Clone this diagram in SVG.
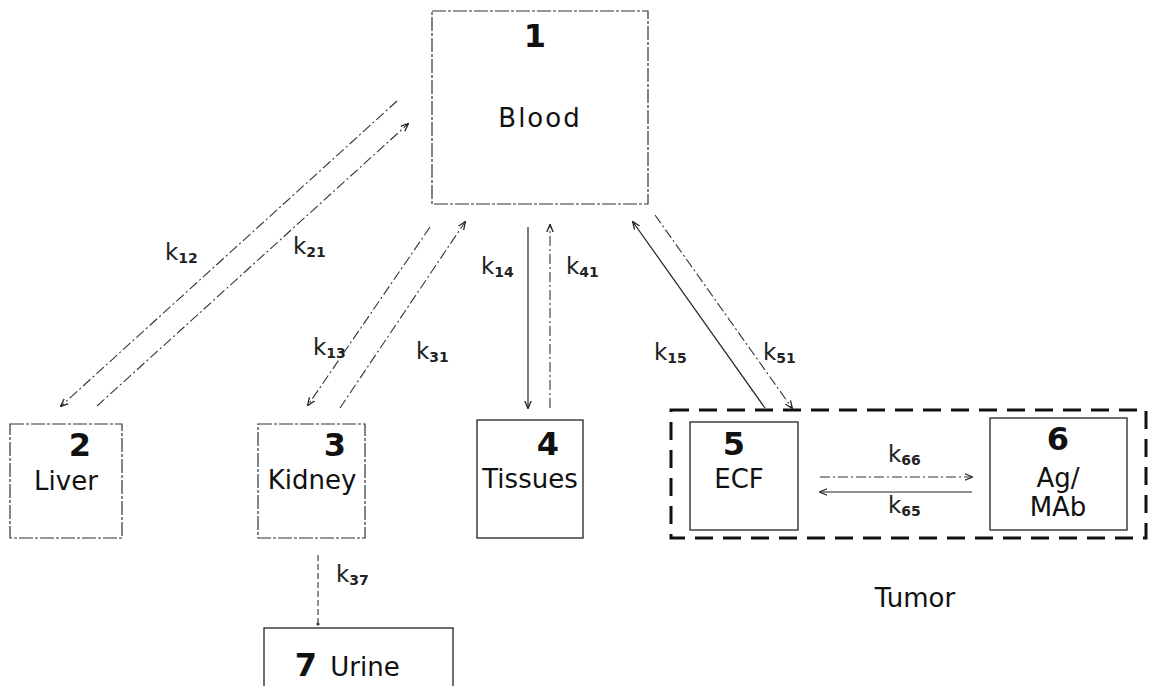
<svg xmlns="http://www.w3.org/2000/svg" width="1149" height="686" viewBox="0 0 1149 686">
<defs>
<marker id="ah" viewBox="0 0 10 10" refX="9" refY="5" markerWidth="8" markerHeight="8" orient="auto-start-reverse" markerUnits="userSpaceOnUse">
<path d="M0,1 L10,5 L0,9" fill="none" stroke="#222" stroke-width="1.6"/>
</marker>
<style>
.box{fill:#fff;stroke:#333;stroke-width:1.2;stroke-dasharray:14 2 3 2}
.solid{fill:#fff;stroke:#222;stroke-width:1.3}
.num{font-family:"DejaVu Sans","Liberation Sans",sans-serif;font-weight:bold;font-size:32px;fill:#111;text-anchor:middle}
.lab{font-family:"DejaVu Sans","Liberation Sans",sans-serif;font-size:26px;fill:#111;text-anchor:middle}
.k{font-family:"DejaVu Sans","Liberation Sans",sans-serif;font-size:23px;fill:#222}
.k tspan{font-size:14px;font-weight:bold}
.c{fill:none;stroke:#333;stroke-width:1.1;stroke-dasharray:10 3 2 3;marker-end:url(#ah)}
.cs{fill:none;stroke:#222;stroke-width:1.2;marker-end:url(#ah)}
</style>
</defs>
<rect width="1149" height="686" fill="#fff"/>

<g id="tumor">
<rect x="671" y="410" width="475" height="128" fill="none" stroke="#111" stroke-width="3" stroke-dasharray="18 10"/>
<text class="lab" x="915" y="607" font-size="28">Tumor</text>
</g>

<g id="n1">
<rect class="box" x="432" y="11" width="216" height="193"/>
<text class="num" x="535" y="47">1</text>
<text class="lab" x="540" y="127" letter-spacing="2">Blood</text>
</g>
<g id="n2">
<rect class="box" x="10" y="424" width="112" height="114"/>
<text class="num" x="80" y="456">2</text>
<text class="lab" x="66" y="490">Liver</text>
</g>
<g id="n3">
<rect class="box" x="258" y="424" width="107" height="114"/>
<text class="num" x="335" y="456">3</text>
<text class="lab" x="312" y="489" font-size="25">Kidney</text>
</g>
<g id="n4">
<rect class="solid" x="477" y="420" width="106" height="118"/>
<text class="num" x="548" y="455">4</text>
<text class="lab" x="530" y="488" font-size="24">Tissues</text>
</g>
<g id="n5">
<rect class="solid" x="690" y="422" width="108" height="108"/>
<text class="num" x="734" y="455">5</text>
<text class="lab" x="739" y="488">ECF</text>
</g>
<g id="n6">
<rect class="solid" x="990" y="418" width="137" height="112"/>
<text class="num" x="1058" y="450">6</text>
<text class="lab" x="1058" y="487" font-size="24">Ag/</text>
<text class="lab" x="1058" y="516" font-size="24">MAb</text>
</g>
<g id="n7">
<rect class="solid" x="264" y="628" width="189" height="70"/>
<text x="306" y="676" class="num">7</text>
<text class="lab" x="365" y="676">Urine</text>
</g>

<g id="connectors">
<line class="c" x1="397" y1="101" x2="61" y2="406"/>
<line class="c" x1="97" y1="406" x2="408" y2="124"/>
<line class="c" x1="430" y1="227" x2="308" y2="405"/>
<line class="c" x1="340" y1="408" x2="465" y2="222"/>
<line class="cs" x1="528" y1="227" x2="528" y2="408"/>
<line class="c" x1="550" y1="408" x2="550" y2="225"/>
<line class="cs" x1="765" y1="408" x2="633" y2="222"/>
<line class="c" x1="655" y1="215" x2="792" y2="408"/>
<line class="c" x1="820" y1="477" x2="972" y2="477"/>
<line class="cs" x1="972" y1="492" x2="820" y2="492"/>
<line x1="318" y1="555" x2="318" y2="624" stroke="#333" stroke-width="1.1" stroke-dasharray="6 3"/>
<circle cx="318" cy="624" r="1.6" fill="#333"/>
</g>

<g id="labels">
<text class="k" x="165" y="260">k<tspan dy="3">12</tspan></text>
<text class="k" x="293" y="254">k<tspan dy="3">21</tspan></text>
<text class="k" x="313" y="355">k<tspan dy="3">13</tspan></text>
<text class="k" x="416" y="359">k<tspan dy="3">31</tspan></text>
<text class="k" x="481" y="274">k<tspan dy="3">14</tspan></text>
<text class="k" x="566" y="274">k<tspan dy="3">41</tspan></text>
<text class="k" x="654" y="360">k<tspan dy="3">15</tspan></text>
<text class="k" x="763" y="360">k<tspan dy="3">51</tspan></text>
<text class="k" x="888" y="462">k<tspan dy="3">66</tspan></text>
<text class="k" x="888" y="513">k<tspan dy="3">65</tspan></text>
<text class="k" x="336" y="582">k<tspan dy="3">37</tspan></text>
</g>
</svg>
